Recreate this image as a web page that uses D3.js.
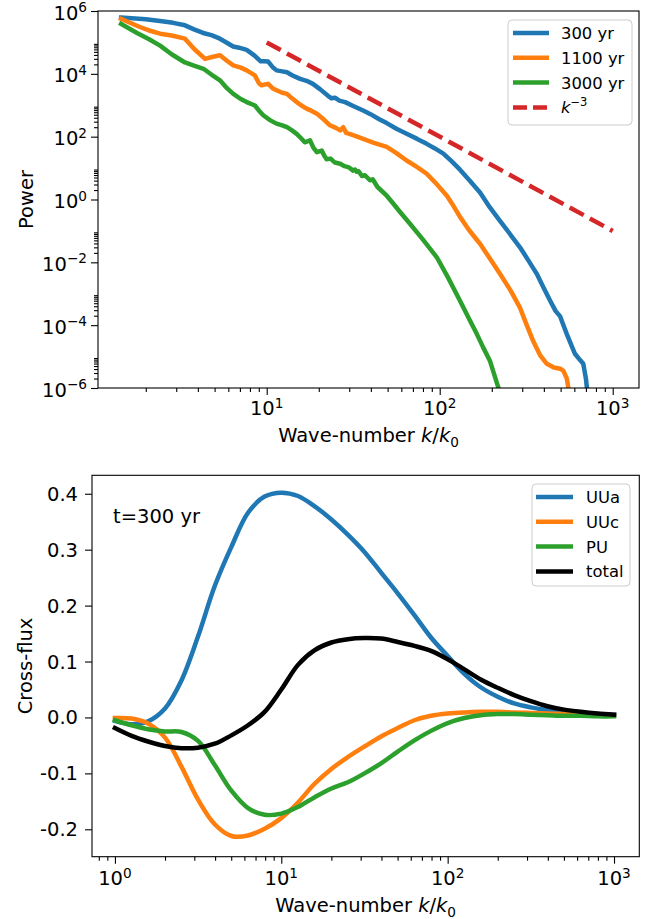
<!DOCTYPE html>
<html><head><meta charset="utf-8">
<script src="https://cdn.jsdelivr.net/npm/d3@7"></script>
<style>
body{margin:0;background:#fff;}
svg{display:block;font-family:"DejaVu Sans",sans-serif;}
</style></head><body>
<svg id="c" width="654" height="919"></svg>
<script>
// ---------------- DATA: top panel (power spectra) ----------------
const k300 = [1.44,2.0,2.42,2.88,3.37,3.80,4.29,4.79,5.24,5.75,6.40,6.92,7.66,8.51,9.23,9.66,10.2,10.8,11.4,12.3,13.1,14.1,15.6,17.0,18.5,20.4,22.6,23.7,24.8,26.3,28.4,31.6,36.1,39.8,44.7,49.4,56.2,64.4,74.1,84.1,93.3,105,117,131,148,171,195,223,251,291,324,364,398,435,468,497,519,543,575,605,646,676,700,716];
const p300 = [6.2e5,5.5e5,4.8e5,4.2e5,3.5e5,2.6e5,2.0e5,1.7e5,1.4e5,1.05e5,7.4e4,6.8e4,5.8e4,3.8e4,2.5e4,2.5e4,2.45e4,1.66e4,1.29e4,1.2e4,1.12e4,8.9e3,6.9e3,6.0e3,4.8e3,3.2e3,2.0e3,1.66e3,1.74e3,1.41e3,1.26e3,9.5e2,6.8e2,5.2e2,3.6e2,2.7e2,1.78e2,1.23e2,85,59,43,29,16.6,8.9,4.2,1.66,0.56,0.21,0.089,0.030,0.012,4.3e-3,1.58e-3,6.0e-4,2.8e-4,1.9e-4,1.0e-4,5.2e-5,2.4e-5,1.23e-5,7.9e-6,5.9e-6,2.0e-6,6.3e-7];
const k1100 = [1.44,1.66,1.85,2.09,2.42,2.82,3.37,3.80,4.40,4.90,5.37,5.89,6.41,7.08,7.66,8.55,9.02,9.35,9.77,10.2,10.8,11.4,12.3,13.1,14.0,14.9,15.8,17.0,18.2,19.5,21.4,23.2,25.1,26.6,27.7,28.8,31.6,36.1,41.7,49.4,56.2,64.4,74.1,84.1,95.5,110,120,131,148,171,195,223,257,291,316,348,380,416,457,497,519,543,562];
const p1100 = [5.6e5,4.0e5,3.1e5,2.4e5,1.9e5,1.66e5,1.32e5,6.3e4,3.0e4,3.5e4,3.9e4,2.6e4,1.86e4,1.58e4,1.29e4,8.9e3,5.0e3,4.3e3,4.6e3,4.8e3,3.5e3,3.0e3,2.5e3,2.3e3,1.66e3,1.26e3,1.0e3,7.8e2,6.6e2,5.4e2,3.5e2,2.3e2,1.9e2,1.58e2,2.0e2,1.32e2,1.12e2,85,63,47,30,17.4,10.7,6.6,3.2,1.32,0.63,0.28,0.105,0.039,0.0132,4.3e-3,1.26e-3,3.6e-4,1.12e-4,3.0e-5,1.12e-5,5.9e-6,4.5e-6,4.1e-6,3.5e-6,2.0e-6,6.3e-7];
const k3000 = [1.44,1.78,2.09,2.42,2.82,3.37,3.80,4.31,4.79,5.37,5.89,6.41,7.08,7.66,8.55,9.12,9.55,10.5,11.4,12.3,13.1,14.0,14.9,15.8,16.6,17.8,18.6,19.5,20.8,21.6,22.2,23.4,24.8,26.6,28.2,29.9,31.6,32.4,33.1,34.0,35.5,37.0,39.5,41.0,43.7,49.4,53.7,59.0,67.5,79.4,96.2,112,131,148,164,178,195,218,229];
const p3000 = [3.9e5,2.0e5,1.26e5,7.9e4,4.2e4,2.3e4,1.82e4,1.45e4,9.5e3,6.2e3,3.5e3,2.3e3,1.58e3,1.26e3,9.8e2,6.3e2,4.8e2,3.3e2,2.6e2,2.3e2,2.0e2,1.58e2,1.23e2,89,66,76,45,32,36,24,19,20,15,13.8,11.5,10.5,8.3,9.0,7.6,7.9,5.6,5.9,4.1,4.4,2.5,1.32,0.76,0.40,0.166,0.056,0.0145,3.2e-3,6.0e-4,1.58e-4,5.2e-5,2.0e-5,7.4e-6,1.05e-6,5.0e-7];
const refK = [10, 1000];
const refP = [1e5, 1e-1];
const topLegend = ["300 yr", "1100 yr", "3000 yr"];
const powerTicks = [1e-6, 1e-4, 1e-2, 1e0, 1e2, 1e4, 1e6];
const kTicksTop = [10, 100, 1000];

// ---------------- DATA: bottom panel (cross-flux, t=300 yr) ----------------
const kFlux = [1,1.26,1.58,2.0,2.51,3.16,3.98,5.01,6.31,7.94,10,12.6,15.8,20,25.1,31.6,39.8,50.1,63.1,79.4,100,126,158,200,251,316,398,501,631,794,1000];
const fluxUUa = [-0.006,-0.012,-0.007,0.016,0.066,0.145,0.235,0.305,0.366,0.395,0.402,0.396,0.378,0.354,0.327,0.296,0.259,0.222,0.183,0.143,0.110,0.078,0.054,0.037,0.025,0.018,0.013,0.010,0.008,0.006,0.005];
const fluxUUc = [-0.001,-0.002,-0.011,-0.036,-0.088,-0.147,-0.191,-0.212,-0.211,-0.199,-0.180,-0.152,-0.119,-0.092,-0.071,-0.052,-0.034,-0.019,-0.005,0.003,0.007,0.009,0.010,0.010,0.009,0.008,0.007,0.006,0.005,0.004,0.004];
const fluxPU = [-0.005,-0.014,-0.021,-0.025,-0.026,-0.042,-0.085,-0.131,-0.162,-0.174,-0.172,-0.160,-0.143,-0.127,-0.116,-0.100,-0.082,-0.061,-0.041,-0.024,-0.010,-0.001,0.004,0.006,0.006,0.005,0.004,0.003,0.003,0.002,0.002];
const fluxTotal = [-0.019,-0.033,-0.043,-0.051,-0.055,-0.054,-0.047,-0.032,-0.014,0.010,0.050,0.094,0.120,0.134,0.140,0.142,0.141,0.135,0.128,0.119,0.104,0.086,0.068,0.053,0.040,0.029,0.020,0.014,0.010,0.007,0.005];
const fluxLegend = ["UUa", "UUc", "PU", "total"];
const fluxTicks = [-0.2, -0.1, 0.0, 0.1, 0.2, 0.3, 0.4];
const kTicksBottom = [1, 10, 100, 1000];

// ---------------- STYLE ----------------
const FS = 19.5;      // axis / tick text
const LFS = 16.4;     // legend text
const LW = 4.5;
const C = {blue:"#1f77b4", orange:"#ff7f0e", green:"#2ca02c", red:"#d62728", black:"#000000"};
const svg = d3.select("#c");

function logLabel(g, x, y, exp, anchor){
  const t = g.append("text").attr("x", x).attr("y", y).attr("text-anchor", anchor)
    .attr("font-size", FS).attr("fill", "#000");
  t.append("tspan").text("10");
  t.append("tspan").attr("font-size", FS*0.7).attr("dy", -7.5).text(exp < 0 ? "\u2212" + (-exp) : String(exp));
  return t;
}
function minorLog(lo, hi){
  const out = [];
  for (let e = Math.floor(Math.log10(lo)); e <= Math.ceil(Math.log10(hi)); e++)
    for (let m = 2; m <= 9; m++){ const v = m*Math.pow(10,e); if (v>=lo && v<=hi) out.push(v); }
  return out;
}
function frame(g, A){
  g.append("rect").attr("x",A.l).attr("y",A.t).attr("width",A.r-A.l).attr("height",A.b-A.t)
   .attr("fill","none").attr("stroke","#000").attr("stroke-width",1.1);
}

// ================= TOP PANEL =================
const T = {l:98, r:639, t:11, b:388};
const xT = d3.scaleLog().domain([1.059, 1419]).range([T.l, T.r]);
const yT = d3.scaleLog().domain([1e-6, 1e6]).range([T.b, T.t]);
const gT = svg.append("g");
gT.append("clipPath").attr("id","clipT").append("rect")
  .attr("x",T.l).attr("y",T.t).attr("width",T.r-T.l).attr("height",T.b-T.t);

gT.append("g").attr("transform",`translate(0,${T.b})`)
  .call(d3.axisBottom(xT).tickValues(kTicksTop).tickSize(7).tickFormat(""))
  .call(g=>g.select(".domain").remove());
gT.append("g").attr("transform",`translate(0,${T.b})`)
  .call(d3.axisBottom(xT).tickValues(minorLog(xT.domain()[0], xT.domain()[1])).tickSize(4).tickFormat(""))
  .call(g=>g.select(".domain").remove());
kTicksTop.forEach(v => logLabel(gT, xT(v), T.b+27, Math.round(Math.log10(v)), "middle"));
gT.append("g").attr("transform",`translate(${T.l},0)`)
  .call(d3.axisLeft(yT).tickValues(powerTicks).tickSize(7).tickFormat(""))
  .call(g=>g.select(".domain").remove());
// minor ticks: 2..9 x 10^e in the decade above each labelled (even) decade
gT.append("g").attr("transform",`translate(${T.l},0)`)
  .call(d3.axisLeft(yT).tickValues(minorLog(1e-6,1e6).filter(v=>Math.abs(Math.floor(Math.log10(v)+1e-9))%2===0)).tickSize(4).tickFormat(""))
  .call(g=>g.select(".domain").remove());
powerTicks.forEach(v => logLabel(gT, T.l-11, yT(v)+8.5, Math.round(Math.log10(v)), "end"));
svg.selectAll(".tick line").attr("stroke","#000").attr("stroke-width",1.1);

const lineT = d3.line().x(d=>xT(d[0])).y(d=>yT(d[1]));
const linesG = gT.append("g").attr("clip-path","url(#clipT)");
[[k300,p300,C.blue],[k1100,p1100,C.orange],[k3000,p3000,C.green]].forEach(([ks,ps,col])=>{
  linesG.append("path").datum(ks.map((k,i)=>[k,ps[i]])).attr("d",lineT)
    .attr("fill","none").attr("stroke",col).attr("stroke-width",LW)
    .attr("stroke-linejoin","round").attr("stroke-linecap","square");
});
linesG.append("path").datum(refK.map((k,i)=>[k,refP[i]])).attr("d",lineT)
  .attr("fill","none").attr("stroke",C.red).attr("stroke-width",LW)
  .attr("stroke-dasharray","16,7");
frame(gT, T);

gT.append("text").attr("transform",`translate(33,${(T.t+T.b)/2}) rotate(-90)`)
  .attr("text-anchor","middle").attr("font-size",FS).text("Power");
function kLabel(g, x, y){
  const t = g.append("text").attr("x",x).attr("y",y).attr("text-anchor","middle").attr("font-size",FS);
  t.append("tspan").text("Wave-number ");
  t.append("tspan").attr("font-style","italic").text("k");
  t.append("tspan").text("/");
  t.append("tspan").attr("font-style","italic").text("k");
  t.append("tspan").attr("font-size",FS*0.7).attr("dy",5).text("0");
}
kLabel(gT, (T.l+T.r)/2, 442);

// legend top
const LT = {x:508, y:20, w:124, h:105};
gT.append("rect").attr("x",LT.x).attr("y",LT.y).attr("width",LT.w).attr("height",LT.h)
  .attr("rx",4).attr("fill","#fff").attr("fill-opacity",0.8).attr("stroke","#cccccc").attr("stroke-width",1);
const legItemsT = [[topLegend[0],C.blue,false],[topLegend[1],C.orange,false],[topLegend[2],C.green,false],[null,C.red,true]];
legItemsT.forEach(([lab,col,dash],i)=>{
  const yy = 33 + i*24.8;
  gT.append("line").attr("x1",513).attr("x2",549).attr("y1",yy).attr("y2",yy)
    .attr("stroke",col).attr("stroke-width",LW).attr("stroke-dasharray",dash?"14,6":null);
  const t = gT.append("text").attr("x",561).attr("y",yy+6).attr("font-size",LFS);
  if (lab) t.text(lab);
  else { t.append("tspan").attr("font-style","italic").text("k");
         t.append("tspan").attr("font-size",LFS*0.7).attr("dy",-7).text("\u22123"); }
});

// ================= BOTTOM PANEL =================
const B = {l:92, r:639.3, t:475.3, b:856.7};
const xB = d3.scaleLog().domain([0.728, 1419]).range([B.l, B.r]);
const yB = d3.scaleLinear().domain([-0.249, 0.433]).range([B.b, B.t]);
const gB = svg.append("g");
gB.append("g").attr("transform",`translate(0,${B.b})`)
  .call(d3.axisBottom(xB).tickValues(kTicksBottom).tickSize(7).tickFormat(""))
  .call(g=>g.select(".domain").remove());
gB.append("g").attr("transform",`translate(0,${B.b})`)
  .call(d3.axisBottom(xB).tickValues(minorLog(xB.domain()[0], xB.domain()[1])).tickSize(4).tickFormat(""))
  .call(g=>g.select(".domain").remove());
kTicksBottom.forEach(v => logLabel(gB, xB(v), B.b+28.5, Math.round(Math.log10(v)), "middle"));
gB.append("g").attr("transform",`translate(${B.l},0)`)
  .call(d3.axisLeft(yB).tickValues(fluxTicks).tickSize(7).tickFormat(""))
  .call(g=>g.select(".domain").remove());
fluxTicks.forEach(v => gB.append("text").attr("x",B.l-14).attr("y",yB(v)+7)
  .attr("text-anchor","end").attr("font-size",FS).text(d3.format(".1f")(v).replace("\u2212","-")));
svg.selectAll(".tick line").attr("stroke","#000").attr("stroke-width",1.1);

const lineB = d3.line().x(d=>xB(d[0])).y(d=>yB(d[1])).curve(d3.curveCatmullRom.alpha(0.5));
[[fluxUUa,C.blue],[fluxUUc,C.orange],[fluxPU,C.green],[fluxTotal,C.black]].forEach(([vs,col])=>{
  gB.append("path").datum(kFlux.map((k,i)=>[k,vs[i]])).attr("d",lineB)
    .attr("fill","none").attr("stroke",col).attr("stroke-width",LW)
    .attr("stroke-linejoin","round").attr("stroke-linecap","square");
});
frame(gB, B);

gB.append("text").attr("x",113).attr("y",523).attr("font-size",FS).text("t=300 yr");
gB.append("text").attr("transform",`translate(32,${(B.t+B.b)/2}) rotate(-90)`)
  .attr("text-anchor","middle").attr("font-size",FS).text("Cross-flux");
kLabel(gB, (B.l+B.r)/2, 912);

const LB = {x:532, y:484, w:98, h:102};
gB.append("rect").attr("x",LB.x).attr("y",LB.y).attr("width",LB.w).attr("height",LB.h)
  .attr("rx",4).attr("fill","#fff").attr("fill-opacity",0.8).attr("stroke","#cccccc").attr("stroke-width",1);
[C.blue,C.orange,C.green,C.black].forEach((col,i)=>{
  const yy = 497 + i*24.8;
  gB.append("line").attr("x1",536).attr("x2",573).attr("y1",yy).attr("y2",yy)
    .attr("stroke",col).attr("stroke-width",LW);
  gB.append("text").attr("x",586).attr("y",yy+6).attr("font-size",LFS).text(fluxLegend[i]);
});
</script>
</body></html>
